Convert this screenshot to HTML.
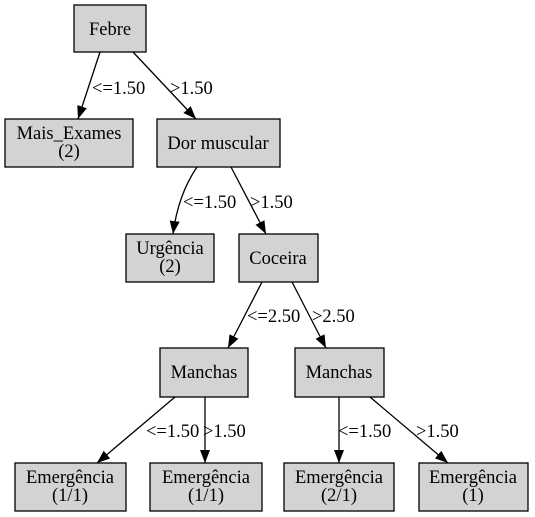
<!DOCTYPE html>
<html><head><meta charset="utf-8"><style>
html,body{margin:0;padding:0;background:#fff;}
svg{display:block;}
text{font-family:"Liberation Serif",serif;font-size:18.5px;fill:#000;}
</style></head><body>
<svg width="535" height="517" viewBox="0 0 535 517" xmlns="http://www.w3.org/2000/svg">
<defs><marker id="a" markerWidth="14" markerHeight="12" refX="13" refY="5" orient="auto" markerUnits="userSpaceOnUse"><path d="M0,0 L13,5 L0,10 z" fill="#000"/></marker></defs>
<g fill="#d3d3d3" stroke="#000" stroke-width="1.3">
<rect x="74" y="5" width="72" height="47"/>
<rect x="5" y="119" width="128" height="48"/>
<rect x="157" y="119" width="123" height="48"/>
<rect x="126" y="234" width="88" height="48"/>
<rect x="239" y="234" width="79" height="48"/>
<rect x="160" y="348" width="88" height="49"/>
<rect x="295" y="348" width="89" height="49"/>
<rect x="15" y="463" width="111" height="48"/>
<rect x="150" y="463" width="112" height="48"/>
<rect x="284" y="463" width="110" height="48"/>
<rect x="419" y="463" width="109" height="48"/>
</g>
<g stroke="#000" stroke-width="1.3" fill="none" marker-end="url(#a)">
<path d="M100,52 L78,119"/>
<path d="M133,52 L196,119"/>
<path d="M197,167 Q178,195 173,234"/>
<path d="M231,167 L266,234"/>
<path d="M262,282 L228,348"/>
<path d="M292,282 L326,348"/>
<path d="M175,397 L97,463"/>
<path d="M205,397 L205,463"/>
<path d="M339,397 L339,463"/>
<path d="M370,397 L448,463"/>
</g>
<g text-anchor="middle">
<text x="110" y="35">Febre</text>
<text x="69" y="139">Mais_Exames</text><text x="69" y="157">(2)</text>
<text x="218" y="149">Dor muscular</text>
<text x="170" y="254">Urgência</text><text x="170" y="272">(2)</text>
<text x="278" y="264">Coceira</text>
<text x="204" y="378">Manchas</text>
<text x="339" y="378">Manchas</text>
<text x="70" y="483">Emergência</text><text x="70" y="501">(1/1)</text>
<text x="206" y="483">Emergência</text><text x="206" y="501">(1/1)</text>
<text x="339" y="483">Emergência</text><text x="339" y="501">(2/1)</text>
<text x="473" y="483">Emergência</text><text x="473" y="501">(1)</text>
</g>
<g>
<text x="92" y="94">&lt;=1.50</text>
<text x="170" y="94">&gt;1.50</text>
<text x="183" y="208">&lt;=1.50</text>
<text x="250" y="208">&gt;1.50</text>
<text x="247" y="322">&lt;=2.50</text>
<text x="312" y="322">&gt;2.50</text>
<text x="146" y="437">&lt;=1.50</text>
<text x="203" y="437">&gt;1.50</text>
<text x="338" y="437">&lt;=1.50</text>
<text x="416" y="437">&gt;1.50</text>
</g>
</svg>
</body></html>
